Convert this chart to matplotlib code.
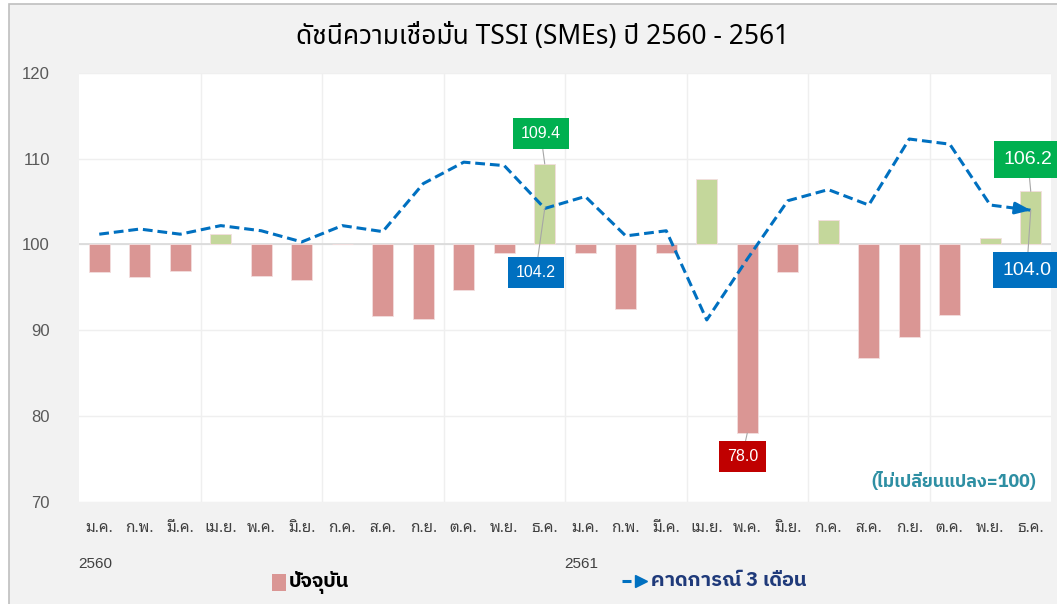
import matplotlib
matplotlib.use('Agg')
import matplotlib.pyplot as plt
from matplotlib.patches import Rectangle
from matplotlib.lines import Line2D

# data (index, 100 = no change)
months = ['ม.ค.', 'ก.พ.', 'มี.ค.', 'เม.ย.', 'พ.ค.', 'มิ.ย.',
          'ก.ค.', 'ส.ค.', 'ก.ย.', 'ต.ค.', 'พ.ย.', 'ธ.ค.'] * 2
years = ['2560', '2561']
current = [96.8, 96.2, 96.9, 101.2, 96.3, 95.8, 100.1, 91.7, 91.3, 94.7, 99.0, 109.4,
           99.0, 92.5, 99.0, 107.6, 78.0, 96.8, 102.9, 86.8, 89.2, 91.8, 100.8, 106.2]
forecast = [101.2, 101.8, 101.2, 102.2, 101.6, 100.3, 102.2, 101.5, 107.1, 109.6, 109.2, 104.2,
            105.6, 101.0, 101.6, 91.2, 98.3, 105.1, 106.4, 104.6, 112.3, 111.7, 104.6, 104.0]

THAI = ['Noto Sans Thai', 'DejaVu Sans']
THAI_BOLD = ['IBM Plex Sans Thai', 'DejaVu Sans']
THAI_LOOP = ['Noto Sans Thai Looped', 'DejaVu Sans']
NUM = ['Liberation Sans', 'DejaVu Sans']

W, H = 1057, 604
fig = plt.figure(figsize=(W / 100, H / 100), dpi=100, facecolor='white')

# grey chart area with border (cut off at right / bottom like the screenshot)
fig.patches.append(Rectangle((9 / W, -0.05), 1.1, 1 - 4 / H + 0.05, transform=fig.transFigure,
                             facecolor='#f2f2f2', edgecolor='#bfbfbf', linewidth=1.2, zorder=-10))

ax = fig.add_axes([79 / W, 1 - 501.7 / H, 972 / W, 428.7 / H])
ax.set_zorder(1)
ax.set_facecolor('white')
x = list(range(len(months)))

colors = ['#c4d79b' if v >= 100 else '#da9694' for v in current]
ax.bar(x, [v - 100 for v in current], bottom=100, width=0.51, color=colors,
       edgecolor='#f3dede', linewidth=0.6, zorder=3)

ax.plot(x, forecast, color='#0070c0', linewidth=2.2, linestyle=(0, (3.2, 1.6)),
        zorder=4, dash_capstyle='butt')
# arrow head at the last forecast point
ax.annotate('', xy=(x[-1], forecast[-1]),
            xytext=(x[-1] - 0.35, forecast[-1] + 0.35 * (forecast[-2] - forecast[-1])),
            arrowprops=dict(arrowstyle='-|>,head_length=0.9,head_width=0.35', color='#0070c0',
                            lw=2.2, shrinkA=0, shrinkB=0), zorder=5)

ax.axhline(100, color='#d9d9d9', linewidth=1.2, zorder=2)
ax.set_xlim(-0.5, len(x) - 0.5)
ax.set_ylim(70, 120)
ax.set_yticks(range(70, 121, 10))
ax.grid(axis='y', color='#efefef', linewidth=1, zorder=0)
for b in range(3, len(x), 3):
    ax.axvline(b - 0.5, color='#efefef', linewidth=1, zorder=0)
for s in ax.spines.values():
    s.set_visible(False)
ax.tick_params(axis='y', length=0, pad=21, labelcolor='#595959', labelsize=12)
for lab in ax.get_yticklabels():
    lab.set_family(NUM)
ax.set_xticks(x)
ax.set_xticklabels(months, family=THAI_LOOP, fontsize=11, color='#404040')
ax.tick_params(axis='x', length=0, pad=14)

# year labels under January
for i, yr in zip([0, 12], years):
    ax.annotate(yr, xy=(i, 70), xytext=(-4, -62), textcoords='offset pixels',
                ha='center', va='center', fontsize=11, color='#404040', family=NUM,
                annotation_clip=False)

# value call-outs
def callout(i, val, dx, dy, fc, size):
    ax.annotate(f'{val:.1f}', xy=(i, val), xytext=(dx, dy), textcoords='offset pixels',
                ha='center', va='center', color='white', fontsize=size, family=NUM,
                bbox=dict(boxstyle='square,pad=0.5', fc=fc, ec='none'),
                arrowprops=dict(arrowstyle='-', color='#a6a6a6', lw=0.8, shrinkA=0, shrinkB=0),
                annotation_clip=False, zorder=6)

callout(11, current[11], -4, 30, '#00b050', 11.5)
callout(11, forecast[11], -9, -64, '#0070c0', 11.5)
callout(16, current[16], -5, -23, '#c00000', 11.5)
callout(23, current[23], -3, 32, '#00b050', 14)
callout(23, forecast[23], -4, -60, '#0070c0', 14)

ax.text(0.985, 0.046, '(ไม่เปลี่ยนแปลง=100)', transform=ax.transAxes, ha='right', va='center',
        fontsize=13, fontweight='bold', color='#2e8fa3', family=THAI_BOLD)

fig.text(543 / W, 1 - 37 / H, 'ดัชนีความเชื่อมั่น TSSI (SMEs) ปี 2560 - 2561', ha='center',
         va='center', fontsize=19, color='black', family=THAI)

# legend
fig.patches.append(Rectangle((272 / W, 1 - 591 / H), 14 / W, 17 / H, transform=fig.transFigure,
                             facecolor='#da9694', edgecolor='none'))
fig.text(289 / W, 1 - 582 / H, 'ปัจจุบัน', ha='left', va='center', fontsize=14.5,
         fontweight='bold', color='black', family=THAI_BOLD)
fig.lines.append(Line2D([622 / W, 631 / W], [1 - 581 / H] * 2, transform=fig.transFigure,
                        color='#0070c0', linewidth=2.2, linestyle=(0, (3.2, 1.6))))
fig.lines.append(Line2D([641 / W], [1 - 581 / H], transform=fig.transFigure, marker='>',
                        markersize=9, color='#0070c0', linestyle='none'))
fig.text(651 / W, 1 - 581 / H, 'คาดการณ์ 3 เดือน', ha='left', va='center', fontsize=14.5,
         fontweight='bold', color='#1f3a7a', family=THAI_BOLD)

fig.savefig('out.png', dpi=100, facecolor=fig.get_facecolor())
